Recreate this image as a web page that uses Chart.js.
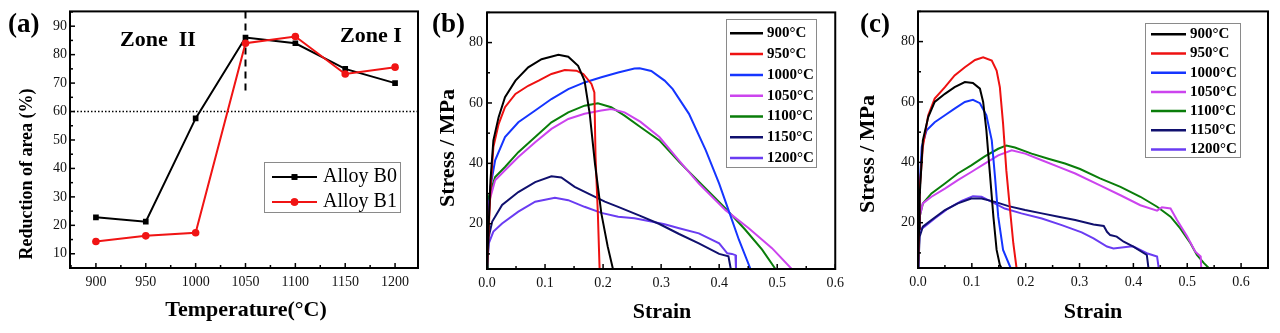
<!DOCTYPE html>
<html>
<head>
<meta charset="utf-8">
<script src="https://cdn.jsdelivr.net/npm/chart.js@4.4.0/dist/chart.umd.min.js"></script>
<style>
  body { margin: 0; background: #fff; }
  canvas.panel { position: absolute; top: 0; }
</style>
</head>
<body>
<canvas id="chartA" class="panel" width="425" height="333" style="left:0"></canvas>
<canvas id="chartB" class="panel" width="425" height="333" style="left:425px"></canvas>
<canvas id="chartC" class="panel" width="430" height="333" style="left:850px"></canvas>
<script>
// (a) reduction of area vs temperature
const TEMPS = [900, 950, 1000, 1050, 1100, 1150, 1200];
const B0_RA = [22.8, 21.3, 57.6, 86.0, 84.0, 75.0, 70.0];
const B1_RA = [14.3, 16.3, 17.4, 84.0, 86.4, 73.2, 75.6];
const RA_TICKS = [10, 20, 30, 40, 50, 60, 70, 80, 90];
const RA_THRESHOLD = 60;
const ZONE_BOUNDARY = 1050;
const ZONE_LINE_RANGE = [95.2, 67];

// (b), (c) tick labels
const STRAIN_TICKS = [0, 0.1, 0.2, 0.3, 0.4, 0.5, 0.6];
const STRESS_TICKS = [20, 40, 60, 80];
const CURVE_LABELS = ['900°C', '950°C', '1000°C', '1050°C', '1100°C', '1150°C', '1200°C'];

// (b) stress-strain curves, [strain, stress MPa]
const B_900 = [[0, 5], [0.003, 20], [0.006, 34.4], [0.011, 47.6], [0.02, 55.3], [0.031, 61.9], [0.049, 67.4], [0.071, 71.8], [0.094, 74.5], [0.123, 76], [0.14, 75.3], [0.157, 72.3], [0.168, 67.4], [0.177, 56.4], [0.186, 39.9], [0.197, 23.4], [0.208, 12.4], [0.217, 5]];
const B_950 = [[0, 5], [0.003, 18], [0.006, 31], [0.011, 45.4], [0.02, 53], [0.031, 58.6], [0.049, 63], [0.071, 65.7], [0.089, 67.4], [0.111, 69.6], [0.134, 70.9], [0.154, 70.7], [0.166, 69.6], [0.18, 66.3], [0.185, 63.5], [0.187, 42.1], [0.191, 23.4], [0.194, 5]];
const B_1000 = [[0, 5], [0.002, 20], [0.006, 32.2], [0.014, 41], [0.031, 48.7], [0.054, 53.6], [0.083, 57.5], [0.111, 61.3], [0.14, 64.6], [0.168, 66.8], [0.197, 68.5], [0.226, 70.1], [0.254, 71.4], [0.263, 71.5], [0.283, 70.6], [0.306, 67.4], [0.32, 64.6], [0.348, 56.4], [0.377, 44.3], [0.4, 33.3], [0.417, 24], [0.434, 14.7], [0.454, 5]];
const B_1050 = [[0, 5], [0.002, 20], [0.003, 26.7], [0.014, 34.4], [0.031, 37.7], [0.054, 42.1], [0.083, 47], [0.111, 51.4], [0.14, 54.7], [0.168, 56.4], [0.197, 57.5], [0.214, 58], [0.237, 56.9], [0.264, 53.8], [0.297, 48.7], [0.331, 40.9], [0.365, 33.3], [0.411, 24.5], [0.451, 18.5], [0.491, 11.9], [0.525, 5]];
const B_1100 = [[0, 5], [0.001, 20], [0.003, 28.9], [0.014, 35.5], [0.031, 38.8], [0.054, 43.7], [0.083, 48.7], [0.111, 53.6], [0.14, 56.9], [0.168, 59.1], [0.191, 59.9], [0.214, 58.6], [0.237, 55.8], [0.263, 52.2], [0.297, 47.6], [0.331, 40.5], [0.365, 33.9], [0.411, 25.1], [0.445, 18], [0.474, 11.4], [0.497, 5]];
const B_1150 = [[0, 5], [0.001, 6.9], [0.003, 15.7], [0.009, 20.7], [0.026, 26.2], [0.054, 30.5], [0.083, 33.8], [0.111, 35.7], [0.128, 35.3], [0.151, 32.2], [0.18, 29.5], [0.203, 27.3], [0.226, 25.6], [0.263, 22.7], [0.297, 19.9], [0.331, 16.6], [0.365, 13.5], [0.4, 10], [0.416, 9.2], [0.42, 5]];
const B_1200 = [[0, 5], [0.001, 8], [0.003, 13.5], [0.011, 17.4], [0.026, 20.1], [0.054, 24], [0.083, 27.3], [0.117, 28.6], [0.14, 27.8], [0.168, 25.6], [0.197, 23.6], [0.226, 22.3], [0.254, 21.8], [0.283, 20.7], [0.306, 19.8], [0.331, 18.5], [0.365, 16.8], [0.4, 13.5], [0.414, 10.2], [0.422, 10], [0.428, 9.6], [0.429, 5]];

// (c) stress-strain curves, [strain, stress MPa]
const C_900 = [[0, 5], [0.002, 18], [0.003, 28.6], [0.009, 47.3], [0.019, 55], [0.031, 60], [0.05, 62.7], [0.068, 64.9], [0.087, 66.6], [0.102, 66.3], [0.115, 64.4], [0.121, 60], [0.127, 50.6], [0.133, 37.4], [0.14, 22], [0.146, 11], [0.152, 6], [0.155, 5]];
const C_950 = [[0, 5], [0.002, 18], [0.003, 30.8], [0.009, 45.1], [0.019, 55.6], [0.031, 61.1], [0.05, 64.9], [0.068, 68.8], [0.087, 71.5], [0.106, 73.9], [0.121, 74.8], [0.137, 73.7], [0.146, 70.4], [0.152, 64.9], [0.158, 52.8], [0.164, 37.4], [0.171, 24.2], [0.177, 13.2], [0.183, 5]];
const C_1000 = [[0, 5], [0.002, 20], [0.003, 31.9], [0.007, 45.1], [0.016, 50.6], [0.031, 53.3], [0.05, 55.6], [0.068, 57.8], [0.087, 60], [0.102, 60.7], [0.115, 59.6], [0.127, 55.6], [0.137, 47.3], [0.143, 35.2], [0.149, 22], [0.158, 11], [0.172, 5]];
const C_1050 = [[0, 5], [0.002, 18], [0.003, 22], [0.009, 26.4], [0.025, 28.6], [0.05, 31.3], [0.074, 34.1], [0.099, 36.8], [0.124, 39.6], [0.149, 42.3], [0.174, 44], [0.199, 42.9], [0.23, 40.7], [0.261, 38.5], [0.292, 36.3], [0.338, 32.4], [0.376, 29.1], [0.413, 25.8], [0.444, 24], [0.453, 25.1], [0.469, 24.7], [0.481, 20.9], [0.5, 15.4], [0.515, 10.4], [0.525, 8.8], [0.526, 5]];
const C_1100 = [[0, 5], [0.002, 18], [0.003, 22], [0.009, 26.4], [0.025, 29.7], [0.05, 33], [0.074, 36.3], [0.099, 39], [0.124, 42], [0.149, 44.5], [0.164, 45.6], [0.18, 44.9], [0.211, 42.9], [0.242, 41.2], [0.273, 39.6], [0.301, 37.8], [0.338, 34.7], [0.376, 31.9], [0.413, 28.6], [0.444, 25.3], [0.469, 22], [0.487, 18.1], [0.506, 13.2], [0.518, 9.3], [0.531, 6.6], [0.54, 5]];
const C_1150 = [[0, 5], [0.001, 6.5], [0.003, 15.4], [0.009, 18.7], [0.025, 20.9], [0.05, 24.2], [0.074, 26.4], [0.099, 28], [0.118, 28], [0.143, 26.9], [0.168, 25.5], [0.199, 24.2], [0.23, 23.1], [0.261, 22], [0.292, 20.9], [0.326, 19.4], [0.345, 18.9], [0.351, 17], [0.357, 15.9], [0.369, 15.4], [0.382, 13.7], [0.4, 12.1], [0.425, 9.3], [0.428, 5]];
const C_1200 = [[0, 5], [0.001, 8.7], [0.003, 17.6], [0.012, 18.7], [0.031, 21.4], [0.056, 24.7], [0.081, 27.2], [0.102, 28.8], [0.118, 28.6], [0.137, 26.9], [0.161, 24.7], [0.192, 23.1], [0.23, 21.4], [0.267, 19.2], [0.304, 16.8], [0.326, 14.8], [0.351, 12.1], [0.363, 11.5], [0.394, 12.1], [0.4, 12.1], [0.425, 9.9], [0.444, 8.8], [0.447, 5]];

const CURVE_COLORS = ['#000000', '#ee1111', '#1535ff', '#cc44ee', '#0a7d0a', '#10106e', '#6a3cf2'];
const SERIF = '"Liberation Serif", "Times New Roman", serif';

// inward ticks + frame, Origin style
const framePlugin = {
  id: 'frame',
  afterDatasetsDraw(chart, args, opts) {
    const { ctx, chartArea: { left, top, right, bottom } } = chart;
    const { x, y } = chart.scales;
    ctx.save();
    ctx.strokeStyle = '#000';
    ctx.lineWidth = 1.5;
    const near = (a, b) => Math.abs(a - b) < 1e-6;
    const drawTicks = (scale, step, horizontal) => {
      const majors = scale.ticks.map(t => t.value);
      const start = Math.ceil(scale.min / step - 1e-6);
      for (let i = start; i * step <= scale.max + 1e-9; i++) {
        const v = i * step;
        const len = majors.some(m => near(m, v)) ? 5 : 3;
        const p = scale.getPixelForValue(v);
        ctx.beginPath();
        if (horizontal) {
          ctx.moveTo(p, bottom);
          ctx.lineTo(p, bottom - len);
        } else {
          ctx.moveTo(left, p);
          ctx.lineTo(left + len, p);
        }
        ctx.stroke();
      }
    };
    drawTicks(x, opts.xMinor, true);
    drawTicks(y, opts.yMinor, false);
    ctx.lineWidth = 2;
    ctx.strokeRect(left, top, right - left, bottom - top);
    ctx.restore();
  },
};

// free text (panel letters, zone labels, axis titles)
const textPlugin = {
  id: 'texts',
  afterDraw(chart, args, opts) {
    const { ctx } = chart;
    (opts.items || []).forEach(item => {
      ctx.save();
      ctx.fillStyle = '#000';
      ctx.font = `${item.bold ? 'bold ' : ''}${item.size}px ${SERIF}`;
      ctx.textAlign = item.align || 'center';
      ctx.textBaseline = 'middle';
      ctx.translate(item.x, item.y);
      if (item.rotate) ctx.rotate(-Math.PI / 2);
      ctx.fillText(item.text, 0, 0);
      ctx.restore();
    });
  },
};

// legend box inside the plot
const boxLegendPlugin = {
  id: 'boxLegend',
  afterDraw(chart, args, opts) {
    const { ctx } = chart;
    const sets = chart.data.datasets.filter(ds => ds.label);
    ctx.save();
    ctx.fillStyle = '#fff';
    ctx.fillRect(opts.left, opts.top, opts.width, opts.height);
    ctx.strokeStyle = '#8a8a8a';
    ctx.lineWidth = 1;
    ctx.strokeRect(opts.left + 0.5, opts.top + 0.5, opts.width, opts.height);
    ctx.textBaseline = 'middle';
    ctx.textAlign = 'left';
    ctx.font = opts.font;
    sets.forEach((ds, i) => {
      const cy = opts.firstRow + i * opts.rowGap;
      ctx.strokeStyle = ds.borderColor;
      ctx.lineWidth = opts.lineWidth;
      ctx.beginPath();
      ctx.moveTo(opts.lineStart, cy);
      ctx.lineTo(opts.lineEnd, cy);
      ctx.stroke();
      if (opts.markers) {
        ctx.fillStyle = ds.backgroundColor;
        Chart.helpers.drawPoint(ctx, { pointStyle: ds.pointStyle, radius: ds.pointRadius, borderWidth: 0, rotation: 0 },
          (opts.lineStart + opts.lineEnd) / 2, cy);
        ctx.fill();
      }
      ctx.fillStyle = '#000';
      ctx.fillText(ds.label, opts.textX, cy);
    });
    ctx.restore();
  },
};

Chart.register(framePlugin, textPlugin, boxLegendPlugin);

const tickFont = { family: SERIF, size: 14 };

const plainAxis = (min, max, tickValues, size, pad, fmt) => ({
  type: 'linear',
  min,
  max,
  grid: { display: false, drawTicks: false },
  border: { display: false },
  ticks: {
    padding: pad,
    color: '#111',
    font: tickFont,
    callback: fmt || (v => v),
  },
  afterBuildTicks: axis => {
    axis.ticks = tickValues.map(value => ({ value }));
  },
  afterFit: axis => {
    if (axis.isHorizontal()) axis.height = size;
    else axis.width = size;
  },
});

const baseOptions = (padding, scales, plugins) => ({
  responsive: false,
  animation: false,
  devicePixelRatio: 1,
  layout: { padding },
  scales,
  plugins: Object.assign({ legend: { display: false }, tooltip: { enabled: false } }, plugins),
});

// ---- (a)
new Chart(document.getElementById('chartA'), {
  type: 'scatter',
  data: {
    datasets: [
      {
        label: 'Alloy B0',
        data: TEMPS.map((t, i) => ({ x: t, y: B0_RA[i] })),
        showLine: true,
        borderColor: '#000',
        backgroundColor: '#000',
        borderWidth: 2,
        pointStyle: 'rect',
        pointRadius: 4,
        pointBorderWidth: 0,
      },
      {
        label: 'Alloy B1',
        data: TEMPS.map((t, i) => ({ x: t, y: B1_RA[i] })),
        showLine: true,
        borderColor: '#f01414',
        backgroundColor: '#f01414',
        borderWidth: 2,
        pointStyle: 'circle',
        pointRadius: 3.8,
        pointBorderWidth: 0,
        order: -1,
      },
      {
        data: [{ x: 874, y: RA_THRESHOLD }, { x: 1223, y: RA_THRESHOLD }],
        showLine: true,
        borderColor: '#000',
        borderWidth: 1.5,
        borderDash: [1.5, 2],
        pointRadius: 0,
      },
      {
        data: ZONE_LINE_RANGE.map(v => ({ x: ZONE_BOUNDARY, y: v })),
        showLine: true,
        borderColor: '#000',
        borderWidth: 2,
        borderDash: [7, 5],
        pointRadius: 0,
      },
    ],
  },
  options: baseOptions({ top: 10, right: 7, left: 0, bottom: 0 }, {
    x: plainAxis(874, 1223, TEMPS, 65, 6),
    y: plainAxis(5, 95.2, RA_TICKS, 70, 3),
  }, {
    frame: { xMinor: 25, yMinor: 5 },
    boxLegend: {
      left: 264, top: 162, width: 136, height: 50,
      firstRow: 177, rowGap: 25, lineStart: 272, lineEnd: 317, textX: 323,
      lineWidth: 2, markers: true, font: `20px ${SERIF}`,
    },
    texts: {
      items: [
        { text: '(a)', x: 8, y: 25, size: 27, bold: true, align: 'left' },
        { text: 'Zone  II', x: 120, y: 40, size: 22, bold: true, align: 'left' },
        { text: 'Zone I', x: 340, y: 36, size: 22, bold: true, align: 'left' },
        { text: 'Reduction of area (%)', x: 27, y: 174, size: 18, bold: true, rotate: true },
        { text: 'Temperature(°C)', x: 246, y: 310, size: 22, bold: true },
      ],
    },
  }),
});

const curveSets = curves => curves.map((pts, i) => ({
  label: CURVE_LABELS[i],
  data: pts.map(([x, y]) => ({ x, y })),
  showLine: true,
  borderColor: CURVE_COLORS[i],
  backgroundColor: CURVE_COLORS[i],
  borderWidth: 2,
  pointRadius: 0,
  tension: 0,
}));

const strainFmt = v => v.toFixed(1);

// ---- (b)
new Chart(document.getElementById('chartB'), {
  type: 'scatter',
  data: { datasets: curveSets([B_900, B_950, B_1000, B_1050, B_1100, B_1150, B_1200]) },
  options: baseOptions({ top: 12, right: 13, left: 0, bottom: 0 }, {
    x: plainAxis(0, 0.6, STRAIN_TICKS, 64, 6, strainFmt),
    y: plainAxis(5, 90, STRESS_TICKS, 62, 4),
  }, {
    frame: { xMinor: 0.05, yMinor: 10 },
    boxLegend: {
      left: 301, top: 19, width: 90, height: 148,
      firstRow: 33.3, rowGap: 20.8, lineStart: 305, lineEnd: 338, textX: 342,
      lineWidth: 2.5, markers: false, font: `bold 15px ${SERIF}`,
    },
    texts: {
      items: [
        { text: '(b)', x: 7, y: 25, size: 27, bold: true, align: 'left' },
        { text: 'Stress / MPa', x: 23.5, y: 148, size: 22, bold: true, rotate: true },
        { text: 'Strain', x: 237, y: 312, size: 22, bold: true },
      ],
    },
  }),
});

// ---- (c)
new Chart(document.getElementById('chartC'), {
  type: 'scatter',
  data: { datasets: curveSets([C_900, C_950, C_1000, C_1050, C_1100, C_1150, C_1200]) },
  options: baseOptions({ top: 11, right: 12, left: 0, bottom: 0 }, {
    x: plainAxis(0, 0.65, STRAIN_TICKS, 65, 6, strainFmt),
    y: plainAxis(5, 90, STRESS_TICKS, 68, 3),
  }, {
    frame: { xMinor: 0.05, yMinor: 10 },
    boxLegend: {
      left: 295, top: 23, width: 95, height: 134,
      firstRow: 34.3, rowGap: 19.2, lineStart: 301, lineEnd: 336, textX: 340,
      lineWidth: 2.5, markers: false, font: `bold 15px ${SERIF}`,
    },
    texts: {
      items: [
        { text: '(c)', x: 10, y: 25, size: 27, bold: true, align: 'left' },
        { text: 'Stress / MPa', x: 18.5, y: 154, size: 22, bold: true, rotate: true },
        { text: 'Strain', x: 243, y: 312, size: 22, bold: true },
      ],
    },
  }),
});
</script>
</body>
</html>
